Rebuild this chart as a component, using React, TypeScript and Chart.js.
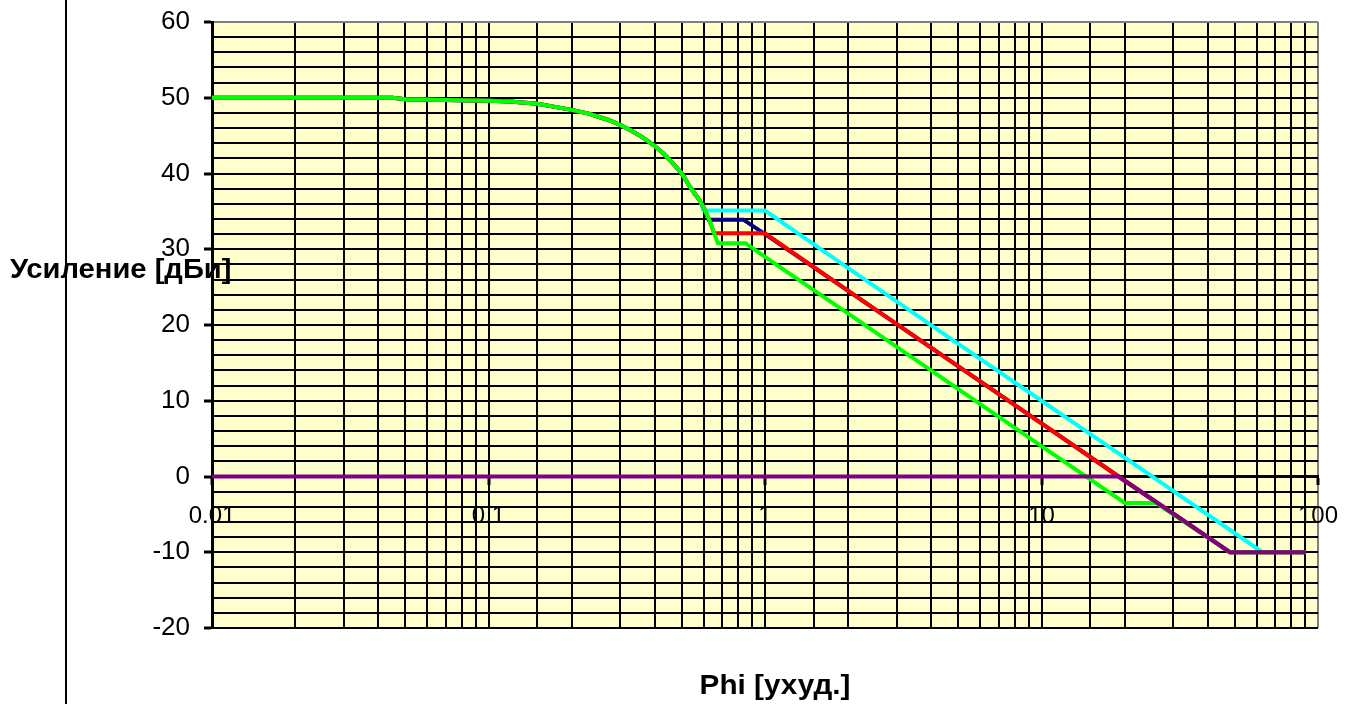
import React, { useEffect, useRef } from 'react';
import { Chart, registerables } from 'chart.js';

Chart.register(...registerables);

// Main lobe shared by all curves (Phi in degrees, gain in dBi)
const mainPhi = [0.01, 0.02, 0.03, 0.045, 0.05, 0.07, 0.1, 0.12, 0.15, 0.18, 0.2, 0.23, 0.27, 0.3, 0.33, 0.36, 0.4, 0.43, 0.46, 0.5, 0.53, 0.56, 0.58];
const mainGain = [50, 50, 50, 50, 49.8, 49.7, 49.6, 49.5, 49.2, 48.7, 48.4, 47.9, 47.1, 46.4, 45.6, 44.8, 43.6, 42.6, 41.5, 40.0, 38.5, 37.2, 36.5];

// Individual branches after the main lobe
const cyanPhi = [0.6, 1.0, 2, 5, 10, 20, 63];
const cyanGain = [35.1, 35.1, 27.5, 17.5, 10, 2.5, -10];

const navyPhi = [0.6, 0.625, 0.835, 1.0, 2, 10, 19, 48, 90];
const navyGain = [35.5, 33.9, 33.9, 32, 24.5, 7, 0, -10, -10];

const redPhi = [0.6, 0.63, 0.655, 1.0, 2, 10, 19, 48, 90];
const redGain = [35.5, 33.8, 32.1, 32.1, 24.5, 7, 0, -10, -10];

const greenPhi = [0.6, 0.63, 0.655, 0.675, 0.85, 1.0, 2, 10, 20, 26, 48, 90];
const greenGain = [35.5, 33.8, 32.1, 30.8, 30.8, 29, 21.5, 4, -3.5, -3.5, -10, -10];

const purplePhi = [0.01, 0.1, 1, 10, 19, 48, 90];
const purpleGain = [0, 0, 0, 0, 0, -10, -10];

const xTickLabels = ['0.01', '0.1', '1', '10', '100'];
const yTickStep = 2;
const yLabelStep = 10;

const yTitle = 'Усиление [дБи]';
const xTitle = 'Phi [ухуд.]';

function pts(phis: number[], gains: number[]) {
  return phis.map((x, i) => ({ x, y: gains[i] }));
}
function withMain(phis: number[], gains: number[]) {
  return pts(mainPhi, mainGain).concat(pts(phis, gains));
}
function isDecade(v: number) {
  const e = Math.log10(v);
  return Math.abs(e - Math.round(e)) < 1e-9;
}

const FONT = "'Liberation Sans', Arial, Helvetica, sans-serif";

export default function App() {
  const ref = useRef<HTMLCanvasElement>(null);

  useEffect(() => {
    if (!ref.current) return;
    const bgPlugin = {
      id: 'bgAndTitles',
      beforeDraw(chart: any) {
        const { ctx, chartArea: a } = chart;
        ctx.save();
        ctx.fillStyle = '#FFFFCC';
        ctx.fillRect(a.left, a.top, a.right - a.left, a.bottom - a.top);
        ctx.restore();
      },
      afterDraw(chart: any) {
        const { ctx } = chart;
        ctx.save();
        ctx.fillStyle = '#000';
        ctx.fillRect(65, 0, 2, 704);
        ctx.font = `bold 27px ${FONT}`;
        ctx.textAlign = 'left';
        ctx.textBaseline = 'middle';
        ctx.save();
        ctx.translate(10, 271);
        ctx.scale(1.08, 1);
        ctx.fillText(yTitle, 0, 0);
        ctx.restore();
        ctx.font = `bold 28px ${FONT}`;
        ctx.textAlign = 'center';
        ctx.save();
        ctx.translate(775, 686);
        ctx.scale(1.06, 1);
        ctx.fillText(xTitle, 0, 0);
        ctx.restore();
        ctx.restore();
      },
    };

    const lineDs = (label: string, data: any[], color: string, order: number) => ({
      label,
      data,
      borderColor: color,
      backgroundColor: color,
      borderWidth: 4,
      pointRadius: 0,
      tension: 0,
      fill: false,
      order,
    });

    const chart = new Chart(ref.current, {
      type: 'line',
      data: {
        datasets: [
          lineDs('purple', pts(purplePhi, purpleGain), '#800080', 0),
          lineDs('green', withMain(greenPhi, greenGain), '#00FF00', 1),
          lineDs('red', withMain(redPhi, redGain), '#FF0000', 2),
          lineDs('navy', withMain(navyPhi, navyGain), '#000080', 3),
          lineDs('cyan', withMain(cyanPhi, cyanGain), '#00FFFF', 4),
        ] as any,
      },
      options: {
        animation: false,
        responsive: true,
        maintainAspectRatio: false,
        layout: { padding: { left: 0, right: 33, top: 22, bottom: 76 } },
        plugins: { legend: { display: false }, tooltip: { enabled: false }, title: { display: false } },
        scales: {
          x: {
            type: 'logarithmic',
            min: 0.01,
            max: 100,
            position: { y: 0 } as any,
            afterFit: (s: any) => {
              s.paddingLeft = 0;
              s.paddingRight = 0;
            },
            grid: {
              color: (c: any) => (c.tick && Math.abs(c.tick.value - 100) < 1e-9 ? '#808080' : '#000'),
              lineWidth: 2,
              tickLength: 7,
              tickWidth: 3,
              tickColor: (c: any) => (c.tick && isDecade(c.tick.value) ? '#000' : 'rgba(0,0,0,0)'),
            },
            border: { color: '#000', width: 3 },
            ticks: {
              autoSkip: false,
              maxRotation: 0,
              color: '#000',
              padding: 18,
              font: { family: FONT, size: 24 },
              callback: (v: any) => {
                const n = Number(v);
                if (!isDecade(n)) return '';
                return xTickLabels[Math.round(Math.log10(n)) + 2] ?? '';
              },
            },
          } as any,
          y: {
            type: 'linear',
            min: -20,
            max: 60,
            position: 'left',
            afterFit: (s: any) => {
              s.width = 212;
              s.paddingTop = 0;
              s.paddingBottom = 0;
            },
            grid: {
              color: (c: any) => (c.tick && c.tick.value === 60 ? '#808080' : '#000'),
              lineWidth: 2,
              tickLength: 8,
              tickWidth: 3,
              tickColor: (c: any) => (c.tick && c.tick.value % yLabelStep === 0 ? '#000' : 'rgba(0,0,0,0)'),
            },
            border: { color: '#000', width: 3 },
            ticks: {
              stepSize: yTickStep,
              autoSkip: false,
              color: '#000',
              padding: 14,
              font: { family: FONT, size: 26 },
              callback: (v: any) => (Number(v) % yLabelStep === 0 ? String(v) : ''),
            },
          } as any,
        },
      },
      plugins: [bgPlugin],
    });
    return () => chart.destroy();
  }, []);

  return (
    <div style={{ position: 'absolute', left: 0, top: 0, width: 1351, height: 704 }}>
      <canvas ref={ref} />
    </div>
  );
}
